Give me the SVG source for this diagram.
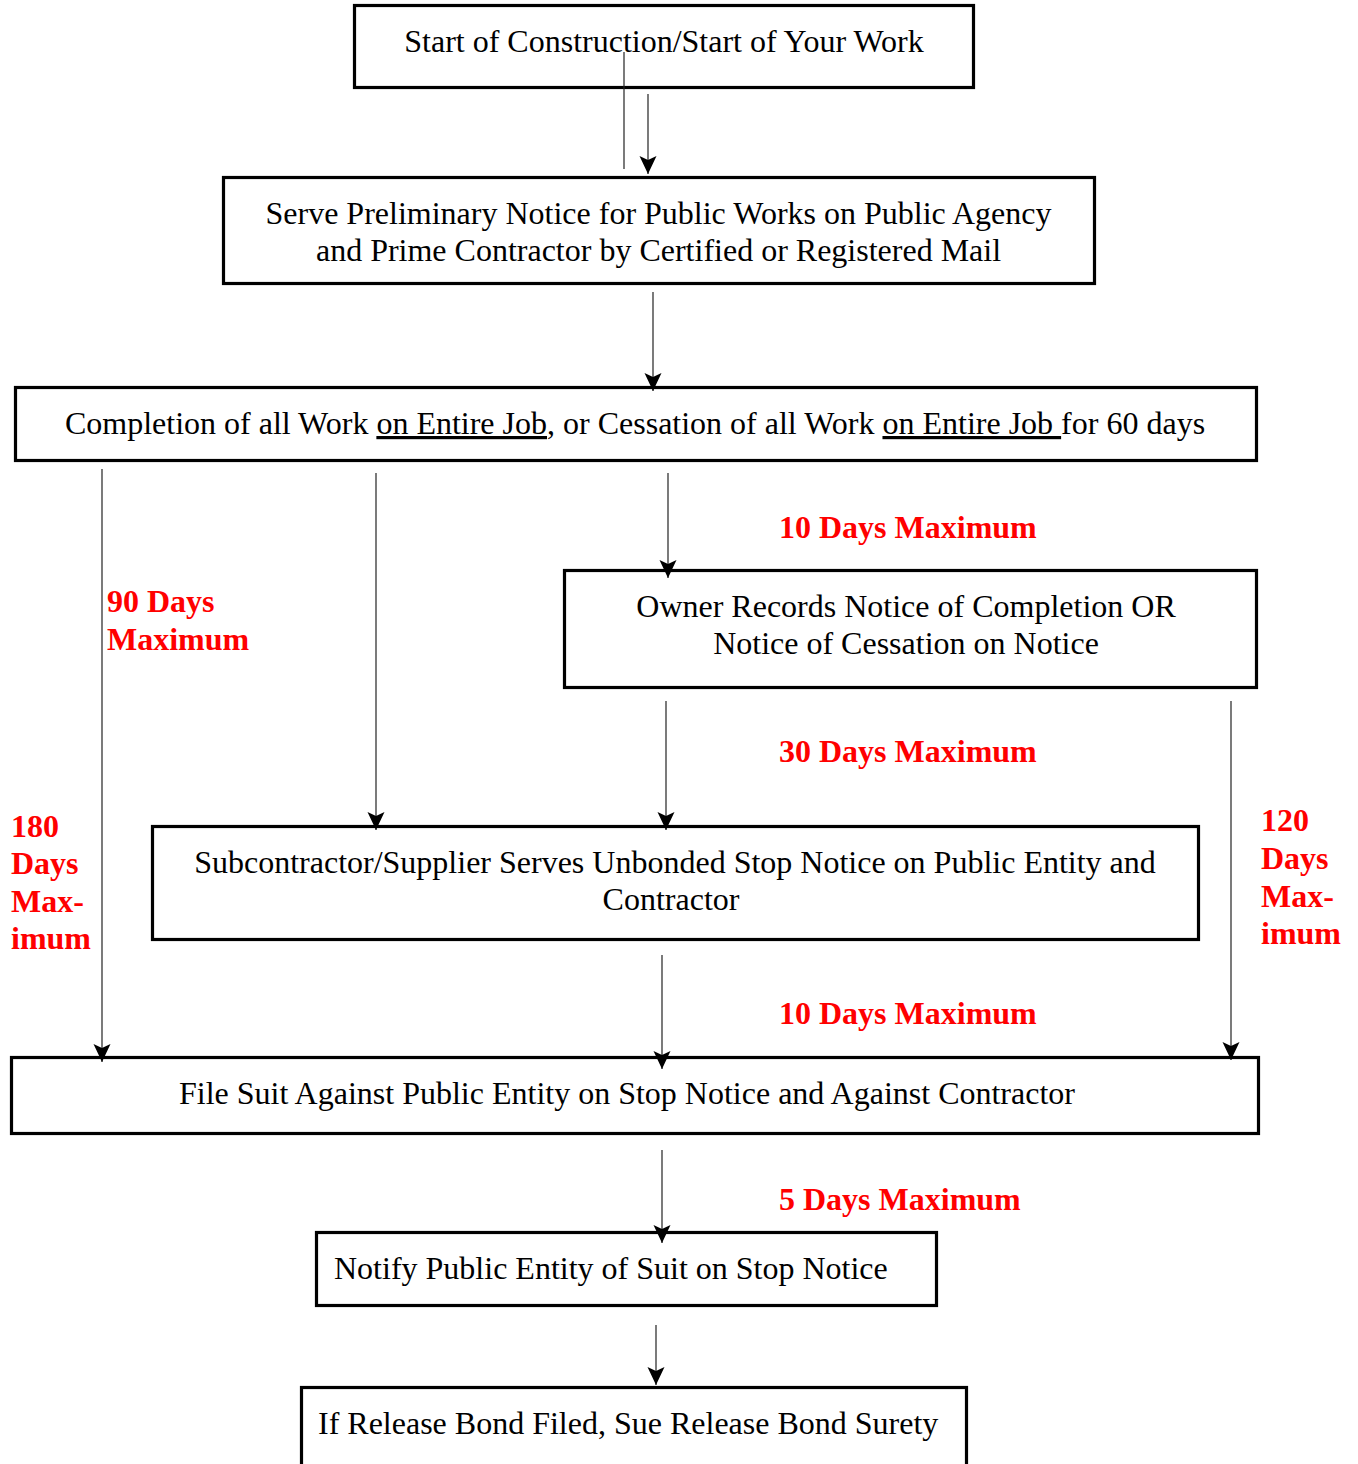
<svg xmlns="http://www.w3.org/2000/svg" width="1358" height="1464" viewBox="0 0 1358 1464">
<style>
.box{fill:#fff;stroke:#000;stroke-width:3.2}
.t{font-family:"Liberation Serif","Times New Roman",serif;font-size:32px;fill:#000}
.c{text-anchor:middle}
.r{font-family:"Liberation Serif","Times New Roman",serif;font-size:32px;font-weight:bold;fill:#f00}
.ln{stroke:#222;stroke-width:1.2;fill:none}
.u{text-decoration:underline}
</style>
<defs>
<marker id="ah" markerUnits="userSpaceOnUse" markerWidth="26" markerHeight="26" viewBox="-2 -13 26 26" refX="18" refY="0" orient="auto">
<path d="M0,-8.5 L18,0 L0,8.5 L4,0 Z" fill="#000"/>
</marker>
</defs>
<g id="n1"><rect class="box" x="354.5" y="5.5" width="619" height="82"/>
<text class="t c" x="664" y="52">Start of Construction/Start of Your Work</text></g>
<g id="n2"><rect class="box" x="223.5" y="177.5" width="871" height="106"/>
<text class="t c" x="658.5" y="224">Serve Preliminary Notice for Public Works on Public Agency</text>
<text class="t c" x="658.5" y="261">and Prime Contractor by Certified or Registered Mail</text></g>
<g id="n3"><rect class="box" x="15.5" y="387.5" width="1241" height="73"/>
<text class="t c" x="635" y="434">Completion of all Work <tspan class="u">on Entire Job</tspan>, or Cessation of all Work <tspan class="u">on Entire Job </tspan>for 60 days</text></g>
<g id="n4"><rect class="box" x="564.5" y="570.5" width="692" height="117"/>
<text class="t c" x="906" y="617">Owner Records Notice of Completion OR</text>
<text class="t c" x="906" y="654">Notice of Cessation on Notice</text></g>
<g id="n5"><rect class="box" x="152.5" y="826.5" width="1046" height="113"/>
<text class="t c" x="675" y="873">Subcontractor/Supplier Serves Unbonded Stop Notice on Public Entity and</text>
<text class="t c" x="671" y="910">Contractor</text></g>
<g id="n6"><rect class="box" x="11.5" y="1057.5" width="1247" height="76"/>
<text class="t c" x="627" y="1104">File Suit Against Public Entity on Stop Notice and Against Contractor</text></g>
<g id="n7"><rect class="box" x="316.5" y="1232.5" width="620" height="73"/>
<text class="t" x="334" y="1279">Notify Public Entity of Suit on Stop Notice</text></g>
<g id="n8"><rect class="box" x="301.5" y="1387.5" width="665" height="100"/>
<text class="t" x="318" y="1434">If Release Bond Filed, Sue Release Bond Surety</text></g>
<g id="connectors">
<line class="ln" x1="624" y1="52" x2="624" y2="169"/>
<line class="ln" x1="648" y1="94" x2="648" y2="174" marker-end="url(#ah)"/>
<line class="ln" x1="653" y1="292" x2="653" y2="391" marker-end="url(#ah)"/>
<line class="ln" x1="102" y1="469" x2="102" y2="1062" marker-end="url(#ah)"/>
<line class="ln" x1="376" y1="473" x2="376" y2="830" marker-end="url(#ah)"/>
<line class="ln" x1="668" y1="473" x2="668" y2="578" marker-end="url(#ah)"/>
<line class="ln" x1="666" y1="701" x2="666" y2="830" marker-end="url(#ah)"/>
<line class="ln" x1="1231" y1="701" x2="1231" y2="1060" marker-end="url(#ah)"/>
<line class="ln" x1="662" y1="955" x2="662" y2="1069" marker-end="url(#ah)"/>
<line class="ln" x1="662" y1="1150" x2="662" y2="1243" marker-end="url(#ah)"/>
<line class="ln" x1="656" y1="1325" x2="656" y2="1385" marker-end="url(#ah)"/>
</g>
<g id="labels">
<text class="r" x="779" y="538">10 Days Maximum</text>
<text class="r" x="107" y="612">90 Days</text>
<text class="r" x="107" y="650">Maximum</text>
<text class="r" x="779" y="762">30 Days Maximum</text>
<text class="r" x="11" y="837">180</text>
<text class="r" x="11" y="874">Days</text>
<text class="r" x="11" y="912">Max-</text>
<text class="r" x="11" y="949">imum</text>
<text class="r" x="1261" y="831">120</text>
<text class="r" x="1261" y="869">Days</text>
<text class="r" x="1261" y="907">Max-</text>
<text class="r" x="1261" y="944">imum</text>
<text class="r" x="779" y="1024">10 Days Maximum</text>
<text class="r" x="779" y="1210">5 Days Maximum</text>
</g>
</svg>
